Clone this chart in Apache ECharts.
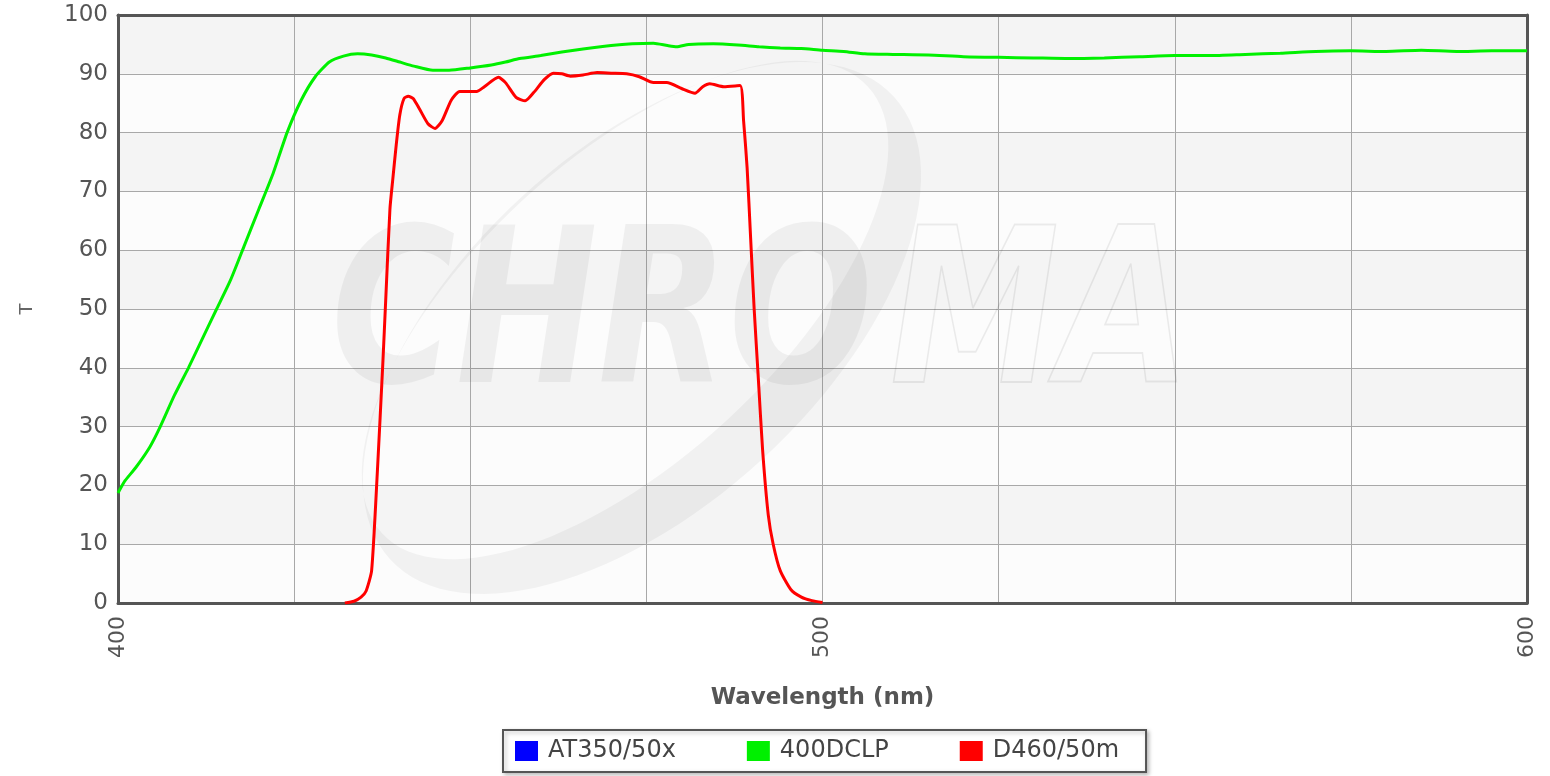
<!DOCTYPE html>
<html lang="en">
<head>
    <meta charset="UTF-8">
    <title>Chroma spectra</title>
    <script src="https://cdn.jsdelivr.net/npm/echarts@6/dist/echarts.min.js"></script>
    <style>
        html, body { margin: 0; padding: 0; background: #fff; }
        #main { width: 1550px; height: 776px; }
    </style>
</head>
<body>
<div id="main"></div>
<script type="text/javascript">
    // 400DCLP transmission (wavelength nm / T %)
    var dclpWl = [400, 401, 402.5, 404.5, 406, 408, 410, 412, 414, 416, 418, 420, 422, 424, 426, 428, 430, 432, 434, 436,
        438, 440, 442, 444.7, 447, 450, 453, 455, 457, 460, 463, 466, 470, 473, 476, 478, 479.3, 481, 484.5, 488,
        491, 494, 497, 500, 503, 506, 510, 515, 520, 525, 530, 535, 540, 545, 550, 555, 560, 565, 570, 575,
        580, 585, 590, 595, 600];
    var dclpT = [18.7, 20.8, 23, 26.5, 30, 35.3, 40, 45, 50, 55, 61, 67, 73, 80, 85.5, 89.5, 92, 93, 93.4, 93.2,
        92.7, 92, 91.3, 90.6, 90.6, 91.0, 91.5, 92, 92.6, 93.1, 93.7, 94.2, 94.8, 95.1, 95.2, 94.8, 94.6, 95.0, 95.1, 94.9,
        94.6, 94.4, 94.3, 94.0, 93.8, 93.4, 93.3, 93.2, 92.9, 92.8, 92.7, 92.6, 92.7, 92.9, 93.1, 93.1, 93.3, 93.5, 93.8, 93.9,
        93.8, 94.0, 93.8, 93.9, 93.9];

    // D460/50m transmission
    var dWl = [432.2, 433.5, 434.5, 435.2, 436, 436.8, 437.6, 438, 438.6, 439, 439.5, 440, 440.6, 441.2, 441.9, 442.8,
        444, 445, 446, 447.3, 448.5, 450.9, 452, 454, 455, 456.5, 457.8, 459, 460.5, 461.8, 463, 464.2, 466, 468,
        470, 472.2, 474, 476, 477.9, 480, 481.9, 483, 484, 486, 488.3, 488.8, 489.3, 489.8, 490.3, 490.9, 491.5,
        492.3, 493, 494, 495.5, 497, 498.5, 500];
    var dT = [0, 0.3, 1, 2, 5.5, 22, 41, 51.5, 67, 72, 78, 83, 85.8, 86.2, 85.8, 84,
        81.5, 80.7, 82, 85.5, 87, 87, 87.8, 89.4, 88.5, 86, 85.4, 86.8, 89, 90.1, 90, 89.6, 89.8, 90.2,
        90.1, 90, 89.5, 88.5, 88.5, 87.5, 86.7, 87.8, 88.3, 87.8, 88, 82, 74, 62, 50, 38, 26,
        15, 10, 5.5, 2.3, 1, 0.4, 0.1];

    // AT350/50x has no points inside 400-600 nm
    var atWl = [];
    var atT = [];

    var seriesNames = ['AT350/50x', '400DCLP', 'D460/50m'];
    var seriesColors = ['#0000ff', '#00f000', '#ff0000'];

    function pairs(xs, ys) {
        var out = [];
        for (var i = 0; i < xs.length; i++) out.push([xs[i], ys[i]]);
        return out;
    }

    // points of a rotated ellipse (watermark swoosh)
    function ellipsePts(cx, cy, a, b, deg, reverse) {
        var r = deg * Math.PI / 180, pts = [];
        for (var i = 0; i <= 120; i++) {
            var t = (reverse ? -1 : 1) * i / 120 * Math.PI * 2;
            var ex = a * Math.cos(t), ey = b * Math.sin(t);
            pts.push([cx + ex * Math.cos(r) - ey * Math.sin(r), cy + ex * Math.sin(r) + ey * Math.cos(r)]);
        }
        return pts;
    }
    var swoosh = ellipsePts(642, 328, 342, 178, -42.6, false).concat(ellipsePts(625, 310, 330, 150, -42.6, true));

    var font = '"DejaVu Sans", Verdana, sans-serif';
    var myChart = echarts.init(document.getElementById('main'));

    myChart.setOption({
        animation: false,
        grid: { left: 118, right: 23, top: 15, bottom: 173 },
        legend: {
            data: seriesNames,
            left: 503,
            top: 730,
            icon: 'rect',
            itemWidth: 23,
            itemHeight: 20,
            itemGap: 71,
            padding: [9, 27, 9, 12],
            borderColor: '#555',
            borderWidth: 2,
            backgroundColor: '#fff',
            shadowColor: 'rgba(0,0,0,0.25)',
            shadowBlur: 4,
            shadowOffsetX: 2,
            shadowOffsetY: 2,
            textStyle: { fontFamily: font, fontSize: 24, color: '#444', padding: [0, 0, 0, 5] }
        },
        graphic: [
            {
                type: 'polygon',
                z: 1,
                silent: true,
                shape: { points: swoosh },
                style: { fill: 'rgba(0,0,0,0.045)' }
            },
            {
                type: 'text',
                z: 1,
                silent: true,
                x: 331, y: 326, scaleX: 0.79,
                style: {
                    text: 'CHRO',
                    font: 'italic bold 215px ' + font,
                    fill: 'rgba(0,0,0,0.05)',
                    verticalAlign: 'middle'
                }
            },
            {
                type: 'text',
                z: 1,
                silent: true,
                x: 890, y: 326, scaleX: 0.79,
                style: {
                    text: 'MA',
                    font: 'italic bold 215px ' + font,
                    fill: 'none',
                    stroke: 'rgba(0,0,0,0.07)',
                    lineWidth: 2,
                    verticalAlign: 'middle'
                }
            }
        ],
        xAxis: [
            {
                type: 'value',
                min: 400,
                max: 600,
                interval: 25,
                name: 'Wavelength (nm)',
                nameLocation: 'middle',
                nameGap: 84,
                nameTextStyle: { fontFamily: font, fontSize: 23, fontWeight: 'bold', color: '#555' },
                axisLine: { show: true, lineStyle: { color: '#555', width: 3 } },
                axisTick: { show: false },
                axisLabel: {
                    rotate: 90,
                    margin: 13,
                    fontFamily: font,
                    fontSize: 22,
                    color: '#555',
                    showMinLabel: true,
                    showMaxLabel: true,
                    formatter: function (v) { return v % 100 === 0 ? String(v) : ''; }
                },
                splitLine: { show: true, lineStyle: { color: '#a8a8a8', width: 1 } }
            },
            {
                type: 'value',
                position: 'top',
                min: 400,
                max: 600,
                axisLine: { show: true, onZero: false, lineStyle: { color: '#555', width: 3 } },
                axisTick: { show: false },
                axisLabel: { show: false },
                splitLine: { show: false }
            }
        ],
        yAxis: [
            {
                type: 'value',
                min: 0,
                max: 100,
                interval: 10,
                name: 'T',
                nameLocation: 'middle',
                nameGap: 82,
                nameTextStyle: { fontFamily: font, fontSize: 18, color: '#666' },
                axisLine: { show: true, lineStyle: { color: '#555', width: 3 } },
                axisTick: { show: false },
                axisLabel: { margin: 10, fontFamily: font, fontSize: 23, color: '#555' },
                splitLine: { show: true, lineStyle: { color: '#a8a8a8', width: 1 } },
                splitArea: { show: true, areaStyle: { color: ['#fcfcfc', '#f4f4f4'] } }
            },
            {
                type: 'value',
                position: 'right',
                min: 0,
                max: 100,
                axisLine: { show: true, onZero: false, lineStyle: { color: '#555', width: 3 } },
                axisTick: { show: false },
                axisLabel: { show: false },
                splitLine: { show: false }
            }
        ],
        series: [
            {
                name: seriesNames[0],
                type: 'line',
                color: seriesColors[0],
                showSymbol: false,
                data: pairs(atWl, atT),
                lineStyle: { width: 3 }
            },
            {
                name: seriesNames[1],
                type: 'line',
                color: seriesColors[1],
                showSymbol: false,
                smooth: 0.2,
                data: pairs(dclpWl, dclpT),
                lineStyle: { width: 3 }
            },
            {
                name: seriesNames[2],
                type: 'line',
                color: seriesColors[2],
                showSymbol: false,
                smooth: 0.2,
                data: pairs(dWl, dT),
                lineStyle: { width: 3 }
            }
        ]
    });
</script>
</body>
</html>
